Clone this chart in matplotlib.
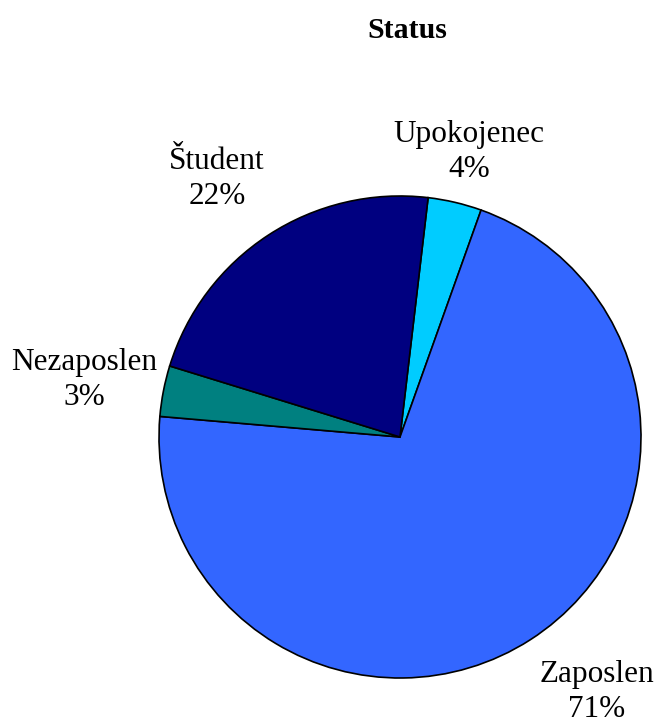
import matplotlib.pyplot as plt

# slice data (clockwise from the top)
labels = ['Upokojenec', 'Zaposlen', 'Nezaposlen', 'Študent']
values = [3.6, 70.9, 3.4, 22.1]
colors = ['#00CCFF', '#3366FF', '#008080', '#000080']

plt.rcParams['font.family'] = ['Liberation Serif', 'DejaVu Serif']

W, H = 657, 726
fig = plt.figure(figsize=(W / 100, H / 100), dpi=100)

# pie centre and radius in pixels
cx, cy, r = 400, 437, 241
ax = fig.add_axes([(cx - r) / W, (H - cy - r) / H, 2 * r / W, 2 * r / H])

total = sum(values)
texts = ['%s\n%d%%' % (l, round(v / total * 100)) for l, v in zip(labels, values)]

wedges, lbls = ax.pie(values, labels=texts, colors=colors, startangle=83.3,
                      counterclock=False, labeldistance=1.29,
                      wedgeprops=dict(edgecolor='black', linewidth=1.2),
                      textprops=dict(fontsize=22.5))

# label centres (pixels in the image), Excel-style placement
label_px = [(469, 152), (597, 692), (84, 380), (217, 179)]
for t, (px, py) in zip(lbls, label_px):
    t.set_position(((px - cx) / r, (cy - py) / r))
    t.set_ha('center')
    t.set_va('center')
    t.set_linespacing(1.25)

ax.set_xlim(-1, 1)
ax.set_ylim(-1, 1)
ax.set_aspect('equal')

fig.text(407 / W, 1 - 30 / H, 'Status', ha='center', va='center',
         fontsize=21.5, fontweight='bold')

fig.savefig('out.png', dpi=100)
